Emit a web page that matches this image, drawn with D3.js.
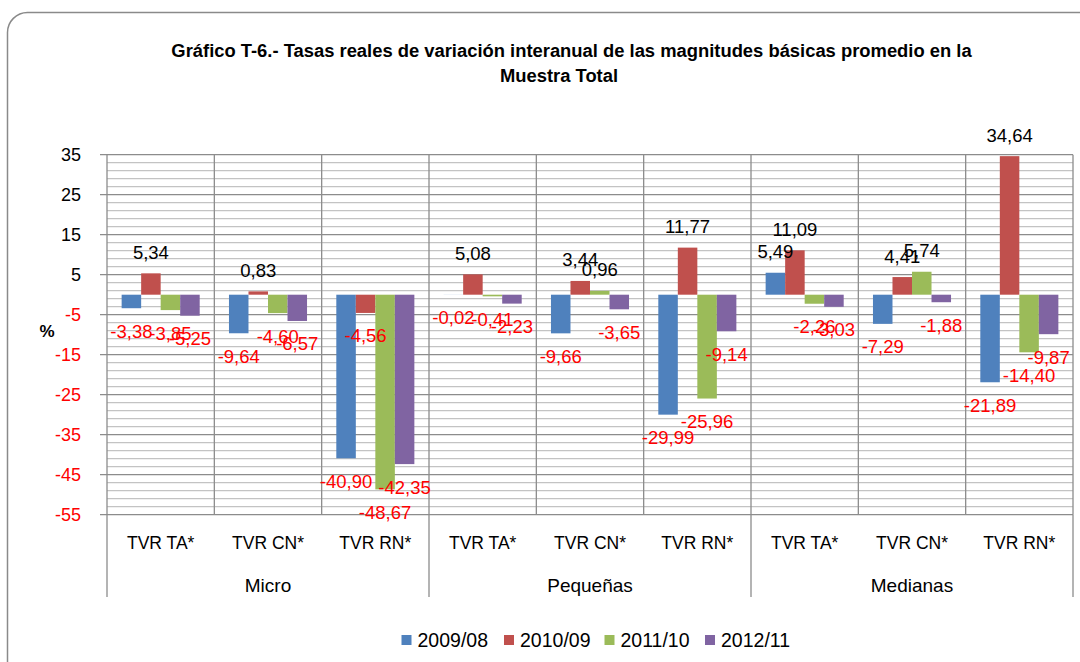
<!DOCTYPE html>
<html>
<head>
<meta charset="utf-8">
<script src="https://cdn.jsdelivr.net/npm/d3@7"></script>
<style>
  html, body { margin: 0; padding: 0; background: #fff; }
  svg { display: block; font-family: "Liberation Sans", Arial, sans-serif; }
</style>
</head>
<body>
<svg id="chart" width="1080" height="662"></svg>
<script>
// ---- Data ----
const titleLines = ["Gráfico T-6.- Tasas reales de variación interanual de las magnitudes básicas promedio en la", "Muestra Total"];
const groups = ["Micro", "Pequeñas", "Medianas"];
const subCategories = ["TVR TA*", "TVR CN*", "TVR RN*"];
const seriesNames = ["2009/08", "2010/09", "2011/10", "2012/11"];
const seriesColors = ["#4F81BD", "#C0504D", "#9BBB59", "#8064A2"];
// values per category in order: Micro TA, CN, RN, Pequeñas TA, CN, RN, Medianas TA, CN, RN
const s2009_08 = [-3.38, -9.64, -40.90, -0.02, -9.66, -29.99, 5.49, -7.29, -21.89];
const s2010_09 = [5.34, 0.83, -4.56, 5.08, 3.44, 11.77, 11.09, 4.41, 34.64];
const s2011_10 = [-3.85, -4.60, -48.67, -0.41, 0.96, -25.96, -2.26, 5.74, -14.40];
const s2012_11 = [-5.25, -6.57, -42.35, -2.23, -3.65, -9.14, -3.03, -1.88, -9.87];
const yTicks = [35, 25, 15, 5, -5, -15, -25, -35, -45, -55];
const yAxisLabel = "%";

const seriesValues = [s2009_08, s2010_09, s2011_10, s2012_11];
const categories = [];
groups.forEach(g => subCategories.forEach(s => categories.push(g + "|" + s)));

// ---- Layout ----
const svg = d3.select("#chart");
const plot = { left: 107, right: 1073, top: 154.7, bottom: 514.7 };

// outer rounded frame
svg.append("rect")
  .attr("x", 7.5).attr("y", 12.5)
  .attr("width", 1110).attr("height", 680)
  .attr("rx", 20).attr("ry", 20)
  .attr("fill", "#fff").attr("stroke", "#8a8a8a").attr("stroke-width", 1.5);

const x = d3.scaleBand().domain(categories).range([plot.left, plot.right]).paddingInner(0).paddingOuter(0);
const inner = d3.scaleBand().domain(seriesNames).range([0, x.bandwidth()]).paddingInner(0).paddingOuter(1.5 / 2);
const y = d3.scaleLinear().domain([-55, 35]).range([plot.bottom, plot.top]);

// minor gridlines (every 2 units)
const minor = d3.range(-55, 35.01, 2).filter(v => (v + 55) % 10 !== 0);
svg.append("g").selectAll("line").data(minor).join("line")
  .attr("x1", plot.left).attr("x2", plot.right)
  .attr("y1", d => y(d)).attr("y2", d => y(d))
  .attr("stroke", "#c3c3c3").attr("stroke-width", 1.2);

// major gridlines
svg.append("g").selectAll("line").data(yTicks).join("line")
  .attr("x1", plot.left - 7).attr("x2", plot.right)
  .attr("y1", d => y(d)).attr("y2", d => y(d))
  .attr("stroke", "#8c8c8c").attr("stroke-width", 1.3);

// vertical gridlines at category boundaries
const vBounds = categories.map(c => x(c)).concat([plot.right]);
svg.append("g").selectAll("line").data(vBounds).join("line")
  .attr("x1", d => d).attr("x2", d => d)
  .attr("y1", plot.top).attr("y2", plot.bottom)
  .attr("stroke", "#8c8c8c").attr("stroke-width", 1.3);

// group separators on the multi-level axis
const groupBounds = groups.map(g => x(g + "|" + subCategories[0])).concat([plot.right]);
svg.append("g").selectAll("line").data(groupBounds).join("line")
  .attr("x1", d => d).attr("x2", d => d)
  .attr("y1", plot.bottom).attr("y2", 597)
  .attr("stroke", "#8c8c8c").attr("stroke-width", 1.3);

// y axis tick labels
svg.append("g").selectAll("text").data(yTicks).join("text")
  .attr("x", 81).attr("y", d => y(d))
  .attr("text-anchor", "end").attr("dominant-baseline", "central")
  .attr("font-size", 18)
  .attr("fill", d => d < 0 ? "#FF0000" : "#000")
  .text(d => d);

// y axis title
svg.append("text").attr("x", 47).attr("y", 331)
  .attr("text-anchor", "middle").attr("dominant-baseline", "central")
  .attr("font-size", 17).attr("font-weight", "bold").text(yAxisLabel);

// bars
const barData = [];
seriesNames.forEach((s, si) => {
  seriesValues[si].forEach((v, ci) => barData.push({ s, si, cat: categories[ci], v }));
});
svg.append("g").selectAll("rect").data(barData).join("rect")
  .attr("x", d => x(d.cat) + inner(d.s))
  .attr("width", inner.bandwidth())
  .attr("y", d => y(Math.max(0, d.v)))
  .attr("height", d => Math.abs(y(d.v) - y(0)))
  .attr("fill", d => seriesColors[d.si]);

// data labels
const fmt = v => v.toFixed(2).replace(".", ",");
svg.append("g").selectAll("text").data(barData).join("text")
  .attr("x", d => x(d.cat) + inner(d.s) + inner.bandwidth() / 2)
  .attr("y", d => d.v >= 0 ? y(d.v) - 21 : y(d.v) + 23)
  .attr("text-anchor", "middle").attr("dominant-baseline", "central")
  .attr("font-size", 18.5)
  .attr("fill", d => d.v < 0 ? "#FF0000" : "#000")
  .text(d => fmt(d.v));

// category labels level 1
svg.append("g").selectAll("text").data(categories).join("text")
  .attr("x", d => x(d) + x.bandwidth() / 2).attr("y", 543)
  .attr("text-anchor", "middle").attr("dominant-baseline", "central")
  .attr("font-size", 17.5)
  .text(d => d.split("|")[1]);

// category labels level 2
svg.append("g").selectAll("text").data(groups).join("text")
  .attr("x", g => (x(g + "|" + subCategories[0]) + x(g + "|" + subCategories[2]) + x.bandwidth()) / 2)
  .attr("y", 585)
  .attr("text-anchor", "middle").attr("dominant-baseline", "central")
  .attr("font-size", 19)
  .text(g => g);

// title
const titleCenters = [571.5, 559];
const titleYs = [50, 75];
const titleSel = svg.append("g").selectAll("text").data(titleLines).join("text")
  .attr("x", (d, i) => titleCenters[i]).attr("y", (d, i) => titleYs[i])
  .attr("text-anchor", "middle").attr("dominant-baseline", "central")
  .attr("font-size", 16).attr("font-weight", "bold")
  .text(d => d);
// fit line 1 to reference width
const firstLen = titleSel.nodes()[0].getComputedTextLength();
titleSel.attr("font-size", 16 * 801 / firstLen);

// legend
const legendX = [401.5, 504, 604.5, 705];
const lg = svg.append("g").selectAll("g").data(seriesNames).join("g")
  .attr("transform", (d, i) => `translate(${legendX[i]},640)`);
lg.append("rect").attr("x", 0).attr("y", -5).attr("width", 10).attr("height", 10)
  .attr("fill", (d, i) => seriesColors[i]);
lg.append("text").attr("x", 16).attr("y", 0)
  .attr("dominant-baseline", "central").attr("font-size", 19.5)
  .text(d => d);
</script>
</body>
</html>
